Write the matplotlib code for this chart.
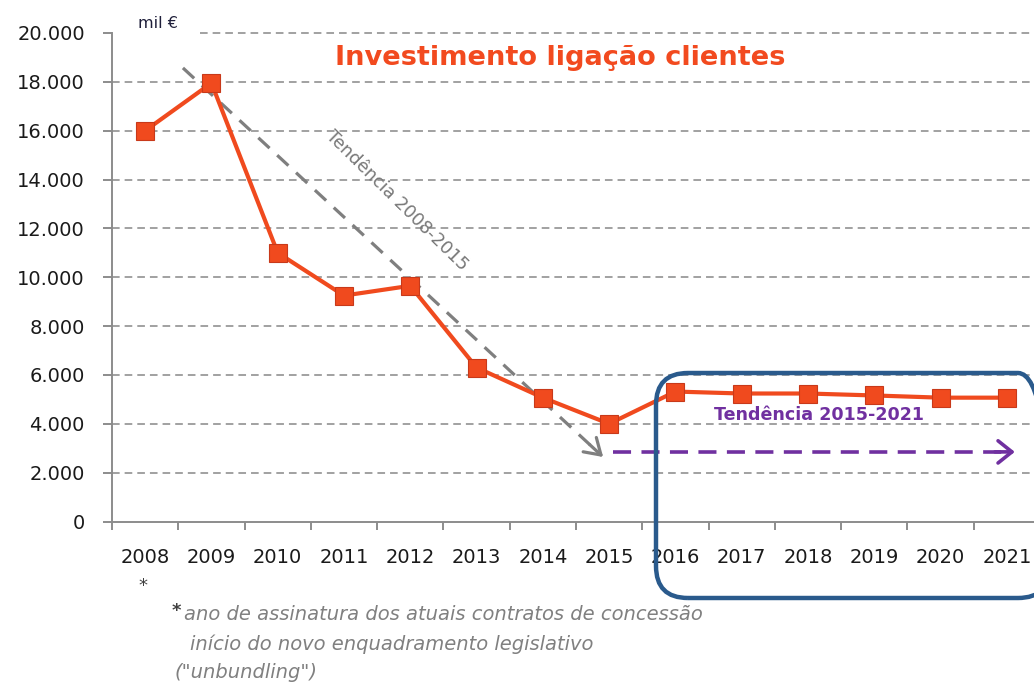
import matplotlib
matplotlib.use('Agg')
import matplotlib.pyplot as plt
from matplotlib.patches import FancyBboxPatch
from matplotlib.transforms import IdentityTransform
import numpy as np

# ---- data ----
years = ['2008', '2009', '2010', '2011', '2012', '2013', '2014',
         '2015', '2016', '2017', '2018', '2019', '2020', '2021']
investimento = [16000, 17950, 11000, 9250, 9650, 6300, 5070,
                4000, 5320, 5240, 5240, 5160, 5070, 5070]
y_ticks = [0, 2000, 4000, 6000, 8000, 10000, 12000, 14000, 16000, 18000, 20000]
title = 'Investimento ligação clientes'
unit_label = 'mil €'
trend1_label = 'Tendência 2008-2015'
trend2_label = 'Tendência 2015-2021'
footnote1 = 'ano de assinatura dos atuais contratos de concessão'
footnote2 = 'início do novo enquadramento legislativo'
footnote3 = '("unbundling")'

plt.rcParams['lines.scale_dashes'] = False
plt.rcParams['font.family'] = ['DejaVu Sans']

W, H = 1034, 684
fig = plt.figure(figsize=(W / 100, H / 100), dpi=100)
ax = fig.add_axes([112 / W, 1 - 521.5 / H, (1040 - 112) / W, (521.5 - 33) / H])

n = len(years)
x = np.arange(n) + 0.5
ax.set_xlim(0, n)
ax.set_ylim(0, 20000)

for s in ['top', 'right']:
    ax.spines[s].set_visible(False)
for s in ['left', 'bottom']:
    ax.spines[s].set_color('#8C8C8C')
    ax.spines[s].set_linewidth(1.4)

ax.set_xticks(np.arange(n + 1))
ax.set_xticklabels([])
ax.set_xticks(x, minor=True)
ax.set_xticklabels(years, minor=True)
ax.tick_params(axis='x', which='major', length=6, width=1.4, color='#8C8C8C')
ax.tick_params(axis='x', which='minor', length=0, pad=19, labelsize=14,
               labelcolor='#1A1A1A')
ax.set_yticks(y_ticks)
ax.set_yticklabels([f'{v:,}'.replace(',', '.') for v in y_ticks])
ax.tick_params(axis='y', length=6.5, width=1.4, color='#8C8C8C', pad=13,
               labelsize=14, labelcolor='#1A1A1A')

# grid (the top line starts after the unit label)
for v in y_ticks[1:]:
    x0 = 1.33 if v == 20000 else 0
    ax.plot([x0, n], [v, v], color='#9A9A9A', lw=1.3, dashes=(5.5, 3.6),
            zorder=0.5, clip_on=False)

# main series
ax.plot(x, investimento, color='#F04A1E', lw=3, marker='s', ms=12.5,
        mfc='#F04A1E', mec='#C8391A', mew=0.8, zorder=5, clip_on=False)

# trend 2008-2015 (gray dashed arrow)
g0 = (1.07, 18570)
g1 = (7.41, 2640)
ax.plot([g0[0], g1[0] - 0.1], [g0[1], g1[1] + 250], color='#7F7F7F', lw=2.3,
        dashes=(11, 7.5), zorder=4)
ax.annotate('', xy=g1, xytext=(g1[0] - 0.2, g1[1] + 500),
            arrowprops=dict(arrowstyle='->,head_length=0.55,head_width=0.35',
                            color='#7F7F7F', lw=2.3, mutation_scale=20,
                            shrinkA=0, shrinkB=0), zorder=4)
ax.text(4.3, 13150, trend1_label, rotation=-44.5, rotation_mode='anchor',
        ha='center', va='center', color='#787878', fontsize=12.8, zorder=4)

# trend 2015-2021 (purple dashed arrow)
p0 = (7.56, 2850)
p1 = (13.62, 2850)
ax.plot([p0[0], p1[0] - 0.1], [p0[1], p1[1]], color='#7030A0', lw=2.6,
        dashes=(13, 7.5), zorder=4)
ax.annotate('', xy=p1, xytext=(p1[0] - 0.3, p1[1]),
            arrowprops=dict(arrowstyle='->,head_length=0.5,head_width=0.4',
                            color='#7030A0', lw=2.6, mutation_scale=20,
                            shrinkA=0, shrinkB=0), zorder=4)
ax.text(10.66, 4360, trend2_label, ha='center', va='center', color='#7030A0',
        fontsize=12.6, fontweight='bold', zorder=4)

# rounded frame around 2016-2021 (its right side lies just beyond the image)
box = FancyBboxPatch((656, H - 598), 394, 225,
                     boxstyle='round,pad=0,rounding_size=32',
                     transform=IdentityTransform(), fill=False,
                     ec='#2A5A8C', lw=3.2, zorder=6)
fig.add_artist(box)

# texts
fig.text(560.5 / W, 1 - 58 / H, title, ha='center', va='center', fontsize=19.6,
         fontweight='bold', color='#F24A1F')
fig.text(157.5 / W, 1 - 23 / H, unit_label, ha='center', va='center',
         fontsize=11.5, color='#1F1F3A')
fig.text(143 / W, 1 - 586 / H, '*', ha='center', va='center', fontsize=13,
         color='#404040')
fig.text(176 / W, 1 - 611 / H, '*', ha='center', va='center', fontsize=13,
         fontweight='bold', color='#404040')
fig.text(184 / W, 1 - 614 / H, footnote1, ha='left', va='center',
         style='italic', fontsize=14, color='#808080')
fig.text(190 / W, 1 - 644 / H, footnote2, ha='left', va='center',
         style='italic', fontsize=14, color='#808080')
fig.text(175 / W, 1 - 673 / H, footnote3, ha='left', va='center',
         style='italic', fontsize=14, color='#808080')

fig.savefig('out.png', dpi=100)
